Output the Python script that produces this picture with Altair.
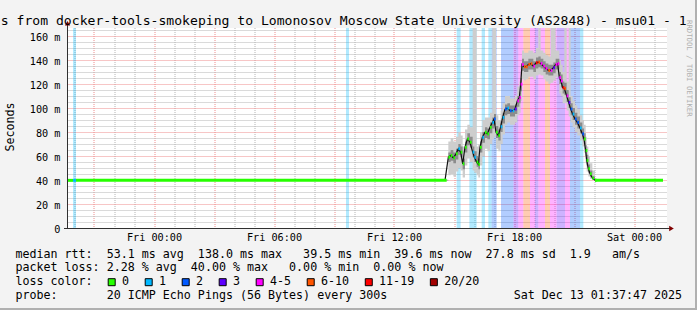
import json
import altair as alt
import pandas as pd

FONT = "DejaVu Sans Mono"
NBSP = "\u00a0"

# ---------------- data ----------------
# x = hours relative to Fri 00:00 (30 h window Thu 19:37:30 .. Sat 01:37:30)
T0, T1 = -4.375, 25.625
Y_MAX = 166.67
tick_hours = [0, 6, 12, 18, 24]
tick_labels = ["Fri 00:00", "Fri 06:00", "Fri 12:00", "Fri 18:00", "Sat 00:00"]
y_label_vals = [0, 20, 40, 60, 80, 100, 120, 140, 160]
y_label_text = ["0", "20 m", "40 m", "60 m", "80 m", "100 m", "120 m", "140 m", "160 m"]
grid_hours = list(range(-4, 26))
grid_ms = list(range(0, 166, 5))

loss_cats = ["0", "1", "2", "3", "4-5", "6-10", "11-19", "20/20"]
loss_colors = ["#26ff00", "#00b8ff", "#0059ff", "#5e00ff", "#ff00ff", "#ff5500", "#ff0000", "#a10000"]

# flat parts of the median (start hour, end hour, median ms, loss)
flat_start = [-4.375, -4.075, -3.925, 22.025]
flat_end = [-4.075, -3.925, 14.525, 25.425]
flat_median = [39.7, 39.7, 39.7, 39.7]
flat_loss = ["0", "1", "0", "0"]

# busy period, Fri ~14:30 .. ~22:00
pt_hour = [14.525, 14.692, 14.808, 14.942, 15.075, 15.192, 15.308, 15.408, 15.525, 15.642,
           15.775, 15.908, 15.992, 16.108, 16.192, 16.275, 16.392, 16.525, 16.642, 16.775,
           16.892, 16.975, 17.075, 17.192, 17.308, 17.408, 17.525, 17.642, 17.775, 17.908,
           18.025, 18.142, 18.242, 18.308, 18.375, 18.475, 18.575, 18.692, 18.808, 18.942,
           19.075, 19.192, 19.308, 19.442, 19.558, 19.692, 19.808, 19.942, 20.058, 20.158,
           20.242, 20.325, 20.408, 20.492, 20.608, 20.708, 20.808, 20.908, 21.025, 21.142,
           21.275, 21.392, 21.475, 21.558, 21.608, 21.692, 21.775, 21.892, 22.025]
pt_median = [39.7, 59.0, 60.4, 58.5, 61.8, 66.0, 63.2, 53.5, 67.3, 74.2,
             71.5, 63.2, 59.0, 54.9, 53.0, 67.3, 75.6, 79.7, 78.4, 83.9,
             88.0, 90.8, 79.7, 77.0, 84.4, 92.2, 99.1, 99.9, 97.7, 97.7,
             99.1, 106.0, 108.7, 119.8, 136.3, 134.4, 134.4, 136.3, 136.9, 134.9,
             137.7, 138.2, 137.1, 134.9, 133.0, 131.3, 131.3, 133.6, 136.3, 136.9,
             125.3, 122.5, 117.0, 116.2, 110.1, 104.6, 99.1, 94.9, 90.8, 88.0,
             83.3, 78.4, 74.2, 64.6, 56.3, 49.4, 45.3, 41.7, 39.7]
pt_loss = ["0", "0", "0", "0", "0", "1", "0", "0", "0", "0",
           "0", "1", "1", "0", "0", "0", "1", "0", "0", "0",
           "1", "2", "0", "0", "1", "1", "2", "1", "2", "1",
           "3", "4-5", "4-5", "4-5", "4-5", "6-10", "6-10", "6-10", "6-10", "4-5",
           "11-19", "6-10", "4-5", "4-5", "4-5", "6-10", "4-5", "3", "4-5", "4-5",
           "4-5", "4-5", "11-19", "6-10", "4-5", "3", "2", "1", "2", "2",
           "1", "2", "0", "0", "0", "0", "0", "0", "0"]
smoke_lo = [39.5, 44, 45, 43, 47, 50, 48, 42, 52, 58,
            55, 48, 46, 44, 42, 52, 60, 66, 64, 70,
            74, 76, 66, 64, 70, 78, 86, 88, 86, 86,
            88, 94, 96, 106, 124, 123, 124, 126, 126, 124,
            127, 128, 127, 124, 122, 120, 121, 123, 126, 126,
            112, 110, 104, 104, 98, 93, 88, 84, 80, 77,
            73, 68, 63, 55, 47, 43, 41, 40, 39.5]
smoke_hi = [40.5, 72, 75, 72, 76, 80, 77, 68, 82, 86,
            84, 167, 167, 68, 70, 80, 90, 92, 92, 96,
            167, 167, 94, 90, 98, 104, 110, 110, 108, 108,
            110, 118, 122, 134, 148, 146, 146, 148, 148, 146,
            150, 167, 148, 146, 144, 143, 167, 167, 148, 148,
            140, 136, 130, 167, 122, 167, 110, 106, 102, 99,
            94, 90, 86, 76, 68, 60, 54, 48, 42]
core_lo = [39.6, 55, 56, 54, 57, 61, 59, 49, 63, 69,
           67, 59, 55, 51, 49, 63, 71, 75, 74, 79,
           83, 86, 75, 73, 80, 87, 94, 95, 93, 93,
           95, 101, 104, 114, 131, 130, 130, 132, 132, 130,
           133, 134, 133, 130, 128, 127, 127, 129, 132, 132,
           120, 117, 112, 111, 105, 100, 94, 90, 86, 83,
           79, 74, 69, 60, 52, 46, 43, 40.5, 39.6]
core_hi = [40, 63, 65, 63, 66, 70, 68, 58, 72, 79,
           76, 68, 64, 60, 58, 72, 80, 84, 83, 88,
           92, 95, 85, 82, 89, 96, 103, 104, 102, 102,
           103, 110, 113, 125, 141, 139, 139, 141, 141, 139,
           142, 143, 141, 139, 137, 136, 136, 138, 141, 141,
           130, 128, 122, 121, 115, 109, 104, 100, 96, 93,
           88, 83, 79, 69, 61, 53, 48, 43, 40.5]

# loss background bands (start hour, end hour, loss)
band_start = [-4.075, 9.575, 15.108, 15.742, 16.358, 16.692, 16.858, 17.325, 17.942, 18.192,
              18.442, 18.775, 19.025, 19.192, 19.525, 19.775, 20.108, 20.525, 20.775, 21.275]
band_end = [-3.925, 9.725, 15.308, 16.108, 16.525, 16.858, 17.108, 17.942, 18.192, 18.442,
            18.775, 19.025, 19.192, 19.525, 19.775, 20.108, 20.525, 20.775, 21.275, 21.442]
band_loss = ["1", "1", "1", "1", "1", "1", "2", "2", "3", "4-5",
             "6-10", "4-5", "3", "4-5", "6-10", "4-5", "3", "4-5", "2", "1"]

title_text = "s from docker-tools-smokeping to Lomonosov Moscow State University (AS2848) - msu01 - 1"
legend_lines = [
    "median rtt:  53.1 ms avg  138.0 ms max   39.5 ms min  39.6 ms now  27.8 ms sd  1.9   am/s",
    "packet loss: 2.28 % avg  40.00 % max   0.00 % min  0.00 % now",
    "loss color:",
    "probe:       20 ICMP Echo Pings (56 Bytes) every 300s                  Sat Dec 13 01:37:47 2025",
]
watermark = "RRDTOOL / TOBI OETIKER"
y_title = "Seconds"

# ---------------- tables ----------------
df_pts = pd.DataFrame({"hour": pt_hour, "median": pt_median, "loss": pt_loss,
                       "smoke_lo": smoke_lo, "smoke_hi": smoke_hi,
                       "core_lo": core_lo, "core_hi": core_hi})
df_flat = pd.DataFrame({"start": flat_start, "end": flat_end, "median": flat_median, "loss": flat_loss})
df_bands = pd.DataFrame({"start": band_start, "end": band_end, "loss": band_loss})

W, H = 600, 200
PITCH = 7.02
LEG_X = 15.4 - 67
LEG_Y = [257.5 - 28, 271.3 - 28, 285.3 - 28, 299.2 - 28]

# legend boxes laid out like the monospaced rrdtool legend
box_left, pos = [], 107.7
for c in loss_cats:
    box_left.append(pos)
    pos += (len(c) + 4.27) * PITCH
df_leg = pd.DataFrame({
    "cat": loss_cats,
    "color": loss_colors,
    "bx": [b - 67 + 4 for b in box_left],
    "tx": [b - 67 + 14.3 for b in box_left],
})

# ---------------- scales / axes ----------------
x_scale = alt.Scale(domain=[T0, T1], nice=False, zero=False)
y_scale = alt.Scale(domain=[0, Y_MAX], nice=False, zero=False)
loss_scale = alt.Scale(domain=loss_cats, range=loss_colors)

x_label_expr = (f"indexof({json.dumps(tick_hours)}, datum.value) >= 0 ? "
                f"{json.dumps(tick_labels)}[indexof({json.dumps(tick_hours)}, datum.value)] : ''")
y_label_expr = (f"indexof({json.dumps(y_label_vals)}, datum.value) >= 0 ? "
                f"{json.dumps(y_label_text)}[indexof({json.dumps(y_label_vals)}, datum.value)] : ''")

GRID = "#b4b4b4"
MGRID = "#ee8c8c"

x_axis = alt.Axis(values=grid_hours, grid=True, translate=0,
                  gridColor=alt.condition("datum.value % 3 === 0", alt.value(MGRID), alt.value(GRID)),
                  gridDash=[1, 1], gridWidth=1, domain=False, ticks=False, tickSize=0,
                  labelExpr=x_label_expr, labelFont=FONT, labelFontSize=10.2, labelColor="#000000",
                  labelPadding=12.7, labelBaseline="alphabetic", labelOverlap=False,
                  labelFlush=False, labelBound=False, title=None)
y_axis = alt.Axis(values=grid_ms, grid=True, translate=0.5,
                  gridColor=alt.condition("datum.value % 20 === 0", alt.value(MGRID), alt.value(GRID)),
                  gridDash=[1, 1], gridWidth=1, domain=False, ticks=False, tickSize=0,
                  labelExpr=y_label_expr, labelFont=FONT, labelFontSize=10.2, labelColor="#000000",
                  labelPadding=7, labelBaseline="middle", labelOffset=1, labelOverlap=False,
                  labelBound=False, labelFlush=False, title=None)


def X(field):
    return alt.X(field, type="quantitative", scale=x_scale, axis=x_axis)


def Y(field):
    return alt.Y(field, type="quantitative", scale=y_scale, axis=y_axis)


loss_color = alt.Color("loss:N", scale=loss_scale, legend=None)

bands = alt.Chart(df_bands).mark_rect(opacity=0.3).encode(
    x=X("start"), x2="end", y=alt.value(0), y2=alt.value(H), color=loss_color)

smoke_outer = alt.Chart(df_pts).mark_area(interpolate="step-after", color="#cdcdcd", clip=True).encode(
    x=X("hour"), y=Y("smoke_lo"), y2="smoke_hi")
smoke_core = alt.Chart(df_pts).mark_area(interpolate="step-after", color="#8c8c8c", clip=True).encode(
    x=X("hour"), y=Y("core_lo"), y2="core_hi")

median_line = alt.Chart(df_pts).mark_line(color="#111111", strokeWidth=1.2).encode(
    x=X("hour"), y=Y("median"))

median_dash = alt.Chart(df_pts).transform_calculate(
    h2="datum.hour + 1/12", lo="datum.median - 1.25", hi="datum.median + 1.25"
).mark_rect().encode(x=X("hour"), x2="h2:Q", y=Y("lo"), y2="hi:Q", color=loss_color)

flat = alt.Chart(df_flat).transform_calculate(
    lo="datum.median - 1.25", hi="datum.median + 1.25"
).mark_rect().encode(x=X("start"), x2="end", y=Y("lo"), y2="hi:Q", color=loss_color)

one = pd.DataFrame({"k": [0]})
y_axis_line = alt.Chart(one).mark_rule(color="#303030", strokeWidth=1).encode(
    x=alt.value(0.5), y=alt.value(-3), y2=alt.value(H))
x_axis_line = alt.Chart(one).mark_rule(color="#303030", strokeWidth=1).encode(
    x=alt.value(-3), x2=alt.value(W + 3), y=alt.value(H + 0.5))
arrow_up = alt.Chart(one).mark_point(shape="triangle-up", filled=True, color="#800000", size=28, opacity=1).encode(
    x=alt.value(0.5), y=alt.value(-4.7))
arrow_right = alt.Chart(one).mark_point(shape="triangle-right", filled=True, color="#800000", size=28, opacity=1).encode(
    x=alt.value(W + 4.5), y=alt.value(H + 0.5))

# rrdtool-style frame on the right and bottom edges
frame_r = alt.Chart(one).mark_rule(color="#b0b0b0", strokeWidth=2).encode(
    x=alt.value(697 - 67 - 1), y=alt.value(-28), y2=alt.value(310 - 28))
frame_b = alt.Chart(one).mark_rule(color="#b0b0b0", strokeWidth=2).encode(
    x=alt.value(-67), x2=alt.value(697 - 67), y=alt.value(310 - 28 - 1))

title = alt.Chart(pd.DataFrame({"t": [title_text.replace(" ", NBSP)]})).mark_text(
    align="left", baseline="alphabetic", font=FONT, fontSize=13.1, color="#000000").encode(
    x=alt.value(0.8 - 67), y=alt.value(-3), text="t:N")

legend_text = alt.layer(*[
    alt.Chart(pd.DataFrame({"t": [line.replace(" ", NBSP)]})).mark_text(
        align="left", baseline="alphabetic", font=FONT, fontSize=11.66, color="#000000").encode(
        x=alt.value(LEG_X), y=alt.value(LEG_Y[i]), text="t:N")
    for i, line in enumerate(legend_lines)
])

leg_boxes = alt.Chart(df_leg).mark_square(size=49, stroke="#000000", strokeWidth=1, opacity=1).encode(
    x=alt.X("bx:Q", scale=None), y=alt.value(282.2 - 28),
    fill=alt.Fill("color:N", scale=None))
leg_labels = alt.Chart(df_leg).mark_text(
    align="left", baseline="alphabetic", font=FONT, fontSize=11.66, color="#000000").encode(
    x=alt.X("tx:Q", scale=None), y=alt.value(LEG_Y[2]), text="cat:N")

wm = alt.Chart(pd.DataFrame({"t": [watermark]})).mark_text(
    align="left", baseline="middle", angle=90, font=FONT, fontSize=7.3, color="#b0b0b0").encode(
    x=alt.value(688.5 - 67), y=alt.value(20 - 28), text="t:N")

ytitle = alt.Chart(pd.DataFrame({"t": [y_title]})).mark_text(
    align="center", baseline="middle", angle=270, font=FONT, fontSize=11.66, color="#000000").encode(
    x=alt.value(11 - 67), y=alt.value(127 - 28), text="t:N")

chart = alt.layer(
    bands, smoke_outer, smoke_core, median_line, median_dash, flat,
    y_axis_line, x_axis_line, arrow_up, arrow_right, frame_r, frame_b,
    title, legend_text, leg_boxes, leg_labels, wm, ytitle,
).properties(
    width=W, height=H,
    autosize=alt.AutoSizeParams(type="none"),
    padding={"left": 67, "top": 28, "right": 30, "bottom": 82},
    background="#f3f3f3",
).configure_view(fill="#ffffff", stroke=None)

chart.save("out.html", embed_options={"renderer": "svg", "actions": False})
